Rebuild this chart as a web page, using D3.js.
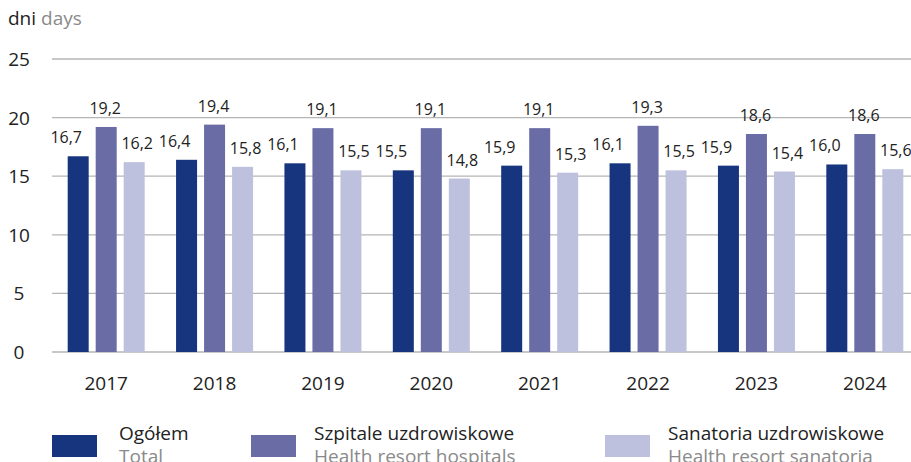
<!DOCTYPE html>
<html>
<head>
<meta charset="utf-8">
<script src="https://cdn.jsdelivr.net/npm/d3@7"></script>
<style>
  body { margin: 0; background: #fff; }
  text { font-family: "Open Sans", "Noto Sans", sans-serif; }
</style>
</head>
<body>
<div id="chart"></div>
<script>
const years = ["2017", "2018", "2019", "2020", "2021", "2022", "2023", "2024"];
const ogolem = [16.7, 16.4, 16.1, 15.5, 15.9, 16.1, 15.9, 16.0];
const szpitale = [19.2, 19.4, 19.1, 19.1, 19.1, 19.3, 18.6, 18.6];
const sanatoria = [16.2, 15.8, 15.5, 14.8, 15.3, 15.5, 15.4, 15.6];
const yTicks = [0, 5, 10, 15, 20, 25];

const series = [
  { pl: "Ogółem", en: "Total", values: ogolem, color: "#17347f" },
  { pl: "Szpitale uzdrowiskowe", en: "Health resort hospitals", values: szpitale, color: "#6a6ca6" },
  { pl: "Sanatoria uzdrowiskowe", en: "Health resort sanatoria", values: sanatoria, color: "#bdc1de" }
];

const W = 911, H = 462;
const svg = d3.select("#chart").append("svg")
  .attr("width", W).attr("height", H);

const x = d3.scaleBand().domain(years).range([52, 919]);
const y = d3.scaleLinear().domain([0, 25]).range([352, 59]);
const offsets = [-28, 0, 28];
const barW = 21;
const labelShift = [-12, -1, 3];

// gridlines
svg.append("g").selectAll("line")
  .data(yTicks)
  .enter().append("line")
    .attr("x1", 52).attr("x2", W)
    .attr("y1", d => y(d)).attr("y2", d => y(d))
    .attr("stroke", "#b5b5b5").attr("stroke-width", 1.3);

svg.append("g").selectAll("text")
  .data(yTicks)
  .enter().append("text")
    .attr("x", 19).attr("y", d => y(d) + 7)
    .attr("text-anchor", "middle")
    .attr("font-size", 19).attr("fill", "#222")
    .text(d => d);

// bars + labels
series.forEach((s, si) => {
  const g = svg.append("g");
  g.selectAll("rect")
    .data(s.values)
    .enter().append("rect")
      .attr("x", (d, i) => x(years[i]) + x.bandwidth() / 2 + offsets[si] - barW / 2)
      .attr("y", d => y(d))
      .attr("width", barW)
      .attr("height", d => y(0) - y(d))
      .attr("fill", s.color);
  g.selectAll("text")
    .data(s.values)
    .enter().append("text")
      .attr("x", (d, i) => x(years[i]) + x.bandwidth() / 2 + offsets[si] + labelShift[si])
      .attr("y", d => y(d) - 13)
      .attr("text-anchor", "middle")
      .attr("font-size", 16).attr("fill", "#222")
      .text(d => d.toFixed(1).replace(".", ","));
});

// x labels
svg.append("g").selectAll("text")
  .data(years)
  .enter().append("text")
    .attr("x", d => x(d) + x.bandwidth() / 2)
    .attr("y", 390)
    .attr("text-anchor", "middle")
    .attr("font-size", 19).attr("fill", "#222")
    .text(d => d);

// unit title
const title = svg.append("text").attr("x", 8).attr("y", 25).attr("font-size", 19);
title.append("tspan").attr("fill", "#222").text("dni ");
title.append("tspan").attr("fill", "#8a8a8a").text("days");

// legend
const legX = [52, 251, 605];
const legTextX = [119, 314, 668];
const legend = svg.append("g");
series.forEach((s, i) => {
  legend.append("rect")
    .attr("x", legX[i]).attr("y", 435)
    .attr("width", 45).attr("height", 22)
    .attr("fill", s.color);
  legend.append("text")
    .attr("x", legTextX[i]).attr("y", 440)
    .attr("font-size", 19).attr("fill", "#222")
    .text(s.pl);
  legend.append("text")
    .attr("x", legTextX[i]).attr("y", 463)
    .attr("font-size", 19).attr("fill", "#8a8a8a")
    .text(s.en);
});
</script>
</body>
</html>
